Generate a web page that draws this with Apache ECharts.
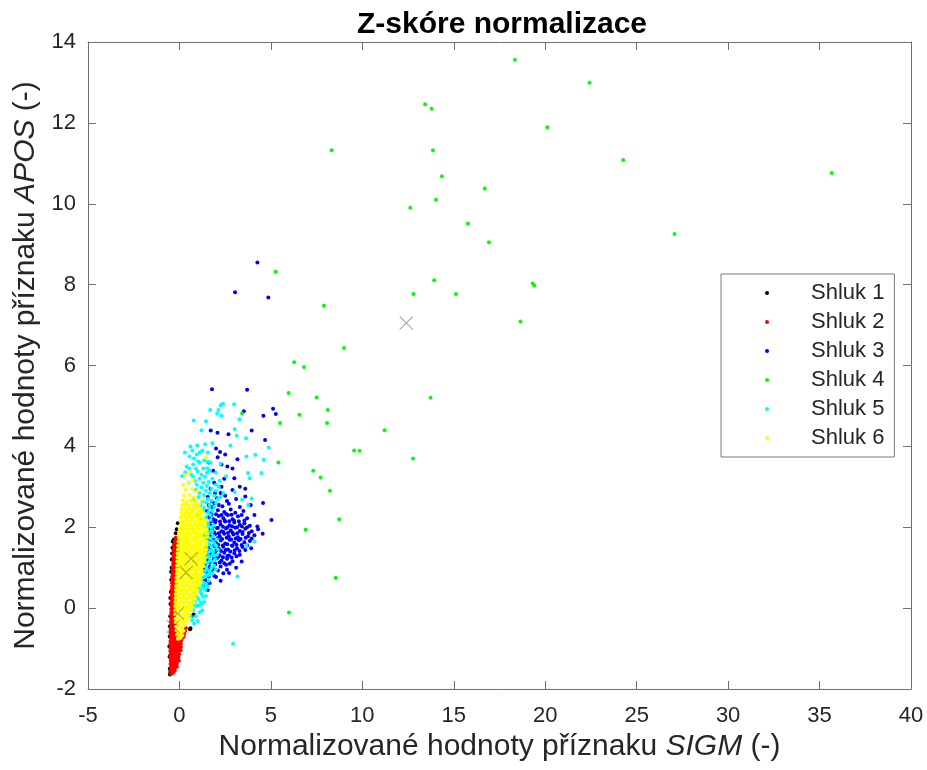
<!DOCTYPE html>
<html><head><meta charset="utf-8">
<script src="https://cdn.jsdelivr.net/npm/echarts/dist/echarts.min.js"></script>
<style>html,body{margin:0;padding:0;background:#fff}#c{width:927px;height:770px}</style>
</head><body><div id="c"></div>
<script>
const titleText = 'Z-skóre normalizace';
const xLabel = 'Normalizované hodnoty příznaku {i|SIGM} (-)';
const yLabel = 'Normalizované hodnoty příznaku {i|APOS} (-)';
const xRange = [-5, 40, 5];
const yRange = [-2, 14, 2];
const seriesNames = ['Shluk 1', 'Shluk 2', 'Shluk 3', 'Shluk 4', 'Shluk 5', 'Shluk 6'];
const seriesColors = ['#000000', '#ff0000', '#0000ff', '#00ff00', '#00ffff', '#ffff00'];

// Shluk 1 (black)
const cluster1 = [[-0.52,-1.64],[-0.5,-1.58],[-0.53,-1.5],[-0.42,-1.56],[-0.24,-1.36],[-0.22,-1.32],[-0.54,-1.2],
[-0.55,-0.95],[-0.45,-0.85],[-0.53,-0.7],[-0.52,-0.45],[-0.5,-0.2],[-0.49,0.1],[-0.47,0.4],[-0.45,0.7],[-0.43,1.0],
[-0.42,1.2],[-0.4,1.35],[-0.38,1.5],[-0.37,1.65],[-0.27,1.59],[-0.32,1.45],[-0.09,2.1],[-0.2,1.85],[-0.15,1.95],
[0.6,-0.5],[0.78,-0.16],[1.46,0.65],[0.69,-0.19],[0.58,-0.52],[-0.3,1.7],[-0.5,0.25],[-0.48,-0.6],[-0.46,0.9]];

// Shluk 2 (red)
const cluster2 = [[-0.46,-1.62],[-0.35,-1.6],[-0.48,-1.54],[-0.37,-1.52],[-0.26,-1.55],[-0.47,-1.46],[-0.36,-1.44],[-0.24,-1.47],[-0.14,-1.45],
[-0.49,-1.38],[-0.38,-1.36],[-0.27,-1.39],[-0.15,-1.37],[-0.48,-1.3],[-0.37,-1.28],[-0.25,-1.31],[-0.13,-1.29],[-0.03,-1.3],
[-0.5,-1.22],[-0.39,-1.2],[-0.28,-1.23],[-0.16,-1.21],[-0.05,-1.22],[-0.49,-1.14],[-0.38,-1.12],[-0.26,-1.15],[-0.14,-1.13],[-0.02,-1.14],
[-0.5,-1.06],[-0.39,-1.04],[-0.27,-1.07],[-0.15,-1.05],[-0.03,-1.06],[0.06,-1.04],[-0.49,-0.98],[-0.38,-0.96],[-0.26,-0.99],[-0.14,-0.97],[-0.02,-0.98],[0.08,-0.96],
[-0.5,-0.9],[-0.39,-0.88],[-0.27,-0.91],[-0.15,-0.89],[-0.03,-0.9],[0.08,-0.88],[-0.49,-0.82],[-0.38,-0.8],[-0.26,-0.83],[-0.14,-0.81],[-0.02,-0.82],[0.1,-0.8],
[-0.48,-0.74],[-0.37,-0.72],[-0.25,-0.75],[-0.13,-0.73],[0.14,-0.74],[0.22,-0.71],[-0.49,-0.66],[-0.38,-0.64],[-0.26,-0.67],[0.25,-0.65],
[-0.47,-0.58],[-0.36,-0.56],[-0.25,-0.59],[0.3,-0.57],[-0.48,-0.5],[-0.37,-0.48],[-0.26,-0.51],[0.35,-0.49],
[-0.46,-0.42],[-0.35,-0.4],[-0.24,-0.43],[-0.47,-0.34],[-0.36,-0.32],[-0.26,-0.35],[-0.45,-0.26],[-0.34,-0.24],[-0.27,-0.27],
[-0.46,-0.18],[-0.35,-0.16],[-0.28,-0.19],[-0.44,-0.1],[-0.34,-0.08],[-0.27,-0.11],[-0.45,-0.02],[-0.35,0.0],[-0.27,-0.03],
[-0.43,0.06],[-0.33,0.08],[-0.26,0.05],[-0.44,0.14],[-0.34,0.16],[-0.25,0.13],[-0.42,0.22],[-0.32,0.24],[-0.24,0.21],
[-0.43,0.3],[-0.33,0.32],[-0.23,0.29],[-0.41,0.38],[-0.31,0.4],[-0.22,0.37],[-0.42,0.46],[-0.32,0.48],[-0.22,0.45],
[-0.4,0.54],[-0.3,0.56],[-0.21,0.53],[-0.41,0.62],[-0.31,0.64],[-0.2,0.61],[-0.39,0.7],[-0.29,0.72],[-0.19,0.69],
[-0.4,0.78],[-0.3,0.8],[-0.18,0.77],[-0.38,0.86],[-0.28,0.88],[-0.17,0.85],[-0.37,0.94],[-0.27,0.96],[-0.16,0.93],
[-0.36,1.02],[-0.26,1.04],[-0.15,1.01],[-0.35,1.1],[-0.25,1.12],[-0.14,1.09],[-0.34,1.18],[-0.24,1.2],[-0.13,1.17],
[-0.33,1.26],[-0.23,1.28],[-0.12,1.25],[-0.32,1.34],[-0.22,1.36],[-0.11,1.33],[-0.31,1.42],[-0.21,1.44],[-0.1,1.41],
[-0.3,1.5],[-0.2,1.52],[-0.09,1.49],[-0.28,1.58],[-0.18,1.6],[-0.08,1.57],[-0.25,1.66],[-0.15,1.68],[-0.2,1.74]];

// Shluk 3 (blue)
const cluster3 = [[4.26,8.55],[3.04,7.81],[4.86,7.68],[1.78,5.41],[3.70,5.40],[3.52,4.87],[5.12,4.93],[5.27,4.80],[4.59,4.76],
[1.71,4.39],[2.08,4.34],[3.95,4.39],[2.68,4.30],[4.68,4.16],[2.22,3.86],[2.09,3.73],[3.17,3.68],[2.62,3.50],[3.00,3.21],
[4.57,2.60],[5.03,2.18],[4.26,2.02],[4.55,1.84],[3.92,1.48],[3.40,1.15],[2.71,0.87],[1.55,0.45],[2.00,0.77],[1.37,0.95],
[1.7,2.95],[2.3,3.0],[2.9,2.92],[1.95,2.85],[1.55,2.75],[2.05,2.72],[2.5,2.78],[3.1,2.7],[3.6,2.76],
[1.6,2.55],[1.9,2.6],[2.35,2.52],[2.7,2.58],[3.3,2.5],[3.9,2.55],[1.5,2.4],[1.75,2.35],[2.1,2.42],[2.45,2.38],[2.8,2.44],[3.05,2.36],[3.5,2.4],
[1.6,2.25],[1.85,2.2],[2.15,2.28],[2.4,2.22],[2.65,2.3],[2.9,2.2],[3.2,2.27],[3.7,2.22],[4.1,2.3],
[1.45,2.1],[1.7,2.05],[1.95,2.12],[2.25,2.07],[2.5,2.14],[2.75,2.05],[3.0,2.12],[3.3,2.06],[3.55,2.1],[3.85,2.04],
[1.55,1.95],[1.8,1.92],[2.05,1.98],[2.3,1.9],[2.55,1.97],[2.8,1.92],[3.05,1.99],[3.3,1.91],[3.6,1.96],[3.95,1.9],[4.3,1.95],
[1.45,1.8],[1.7,1.76],[1.95,1.83],[2.2,1.78],[2.45,1.84],[2.7,1.77],[2.95,1.82],[3.2,1.75],[3.45,1.83],[3.75,1.78],[4.1,1.8],
[1.5,1.64],[1.75,1.68],[2.0,1.61],[2.25,1.67],[2.5,1.6],[2.75,1.69],[3.0,1.62],[3.25,1.68],[3.55,1.63],[3.85,1.66],
[1.4,1.5],[1.65,1.46],[1.9,1.53],[2.15,1.47],[2.4,1.52],[2.65,1.45],[2.9,1.54],[3.15,1.48],[3.45,1.51],
[1.45,1.35],[1.7,1.32],[1.95,1.38],[2.2,1.31],[2.45,1.37],[2.7,1.3],[3.0,1.36],[3.3,1.32],
[1.5,1.2],[1.8,1.17],[2.05,1.24],[2.3,1.18],[2.6,1.22],[2.9,1.16],[1.4,1.05],[1.65,1.02],[1.95,1.08],[2.25,1.03],[2.55,1.07],[3.1,1.0],
[1.45,0.9],[1.75,0.88],[2.1,0.93],[2.4,0.86],[1.4,0.7],[1.65,0.62],[2.25,0.68],[1.3,0.55],
[1.62,1.28],[1.88,1.25],[2.12,1.27],[2.38,1.26],[2.62,1.29],[2.85,1.25],[3.12,1.28],
[1.55,1.42],[1.78,1.4],[2.02,1.43],[2.28,1.41],[2.52,1.44],[2.78,1.4],[3.02,1.43],[3.28,1.41],[3.6,1.44],
[1.62,1.56],[1.87,1.55],[2.12,1.57],[2.37,1.55],[2.62,1.58],[2.87,1.55],[3.12,1.57],[3.4,1.56],[3.7,1.55],
[1.58,1.72],[1.83,1.7],[2.08,1.73],[2.33,1.71],[2.58,1.74],[2.83,1.7],[3.08,1.72],[3.35,1.71],[3.62,1.74],[3.95,1.72],
[1.65,1.86],[1.9,1.87],[2.15,1.85],[2.4,1.88],[2.65,1.86],[2.9,1.87],[3.15,1.85],[3.45,1.88],[3.8,1.86],
[1.6,2.0],[1.85,2.02],[2.1,1.99],[2.38,2.01],[2.62,2.0],[2.88,2.02],[3.15,2.0],[3.42,2.02],[3.7,2.0],
[1.72,2.15],[1.98,2.17],[2.22,2.14],[2.48,2.16],[2.72,2.15],[2.98,2.17],[3.25,2.15],[3.55,2.17],
[1.75,2.3],[2.0,2.32],[2.3,2.3],[2.55,2.33],[2.85,2.31],[3.4,2.3],
[1.65,1.12],[1.95,1.1],[2.2,1.13],[2.45,1.11],[2.75,1.1],[1.55,0.98],[1.85,0.97],[2.6,0.95],[1.6,0.78],[1.9,0.8],[1.5,0.62],
[1.8,2.5],[2.15,2.55],[2.6,2.65],[1.75,2.65],[2.25,2.85],[1.9,3.1],[2.45,3.2],[1.85,3.4],[2.3,3.55],[2.0,3.95],[2.5,3.8],
[1.6,3.6],[2.9,3.45],[3.3,3.0],[3.6,2.95]];

// Shluk 4 (green)
const cluster4 = [[18.34,13.56],[22.42,12.99],[13.43,12.46],[13.79,12.35],[20.11,11.89],[8.32,11.32],[13.86,11.32],[24.26,11.08],
[35.67,10.76],[14.35,10.68],[16.69,10.38],[14.03,10.10],[12.62,9.90],[15.77,9.51],[27.07,9.25],[16.92,9.05],[5.26,8.32],
[13.93,8.11],[19.31,8.03],[19.40,7.98],[12.79,7.77],[15.12,7.77],[7.90,7.48],[18.65,7.09],[9.00,6.43],[6.27,6.08],[6.81,5.96],
[5.97,5.32],[7.50,5.21],[13.73,5.20],[8.11,4.90],[3.43,4.81],[6.56,4.78],[5.50,4.58],[8.07,4.58],[11.22,4.40],[9.55,3.90],
[9.85,3.89],[12.77,3.70],[5.41,3.60],[7.31,3.40],[7.72,3.23],[8.23,2.90],[8.73,2.20],[6.90,1.94],[8.54,0.75],[5.99,-0.11]];

// Shluk 5 (cyan)
const cluster5 = [[0.7,-0.3],[0.9,-0.2],[1.1,-0.1],[0.75,-0.05],[0.95,0.05],[1.2,0.1],[0.85,0.15],[1.05,0.22],[1.3,0.28],[0.9,0.35],[1.15,0.4],[1.4,0.45],[1.0,0.5],
[1.25,0.55],[1.45,0.6],[1.2,0.7],[1.4,0.78],[1.6,0.82],[1.3,0.9],[1.5,0.97],[1.75,1.0],[1.3,1.08],[1.55,1.12],[1.8,1.15],[1.35,1.22],[1.6,1.28],[1.9,1.3],
[1.4,1.38],[1.7,1.42],[1.35,1.52],[1.6,1.58],[1.9,1.6],[1.45,1.68],[1.7,1.72],[1.35,1.8],[1.6,1.85],[1.45,1.95],[1.75,2.0],[2.05,1.7],[2.1,1.45],[1.95,1.2],[2.0,0.95],
[1.3,2.05],[1.55,2.1],[1.2,2.18],[1.45,2.25],[1.7,2.3],[1.0,2.32],[1.3,2.4],[1.6,2.45],[1.9,2.5],[0.9,2.5],[1.15,2.55],[1.45,2.62],[1.75,2.66],[2.1,2.7],
[0.8,2.7],[1.05,2.75],[1.35,2.8],[1.65,2.85],[2.0,2.9],[2.4,2.85],[0.9,2.92],[1.2,2.98],[1.5,3.02],
[0.5,3.1],[0.85,3.15],[1.1,3.2],[1.4,3.25],[1.8,3.2],[2.2,3.15],[0.65,3.3],[1.0,3.38],[1.3,3.45],[1.65,3.4],[2.0,3.35],[0.4,3.5],[0.75,3.55],
[1.1,3.6],[1.55,3.62],[0.55,3.75],[0.95,3.8],[1.25,3.9],[0.3,3.85],[0.6,4.0],[0.97,4.02],[0.78,4.64],[0.15,3.27],[0.31,3.36],[1.55,3.85],[1.53,3.46],[2.24,3.57],[1.02,3.63],
[2.33,5.05],[2.99,5.04],[2.06,4.81],[2.30,4.76],[3.28,4.67],[3.02,4.43],[3.13,4.26],[3.64,4.20],[4.88,3.97],[1.80,4.08],[2.79,4.02],[4.15,3.79],
[3.66,3.75],[4.61,3.67],[4.48,3.34],[3.75,3.34],[3.84,3.21],[2.55,3.26],[3.02,2.87],[3.43,2.68],[3.95,2.71],[3.77,2.55],[4.11,1.64],[3.66,1.54],
[3.17,0.78],[1.17,0.14],[2.93,-0.88],[2.13,4.9],[2.26,5.02],[2.39,5.05],[1.68,4.9],[1.45,4.62],[1.2,4.4],
[0.8,-0.38],[1.0,-0.32],[0.62,-0.2],[1.25,-0.05],[0.8,0.08],[1.05,0.06],[1.35,0.15],[0.95,0.28],[1.2,0.35],[1.45,0.3],[1.1,0.46],[1.3,0.5],[1.55,0.52],
[1.35,0.62],[1.6,0.68],[1.3,0.76],[1.55,0.82],[1.8,0.85],[1.4,0.92],[1.65,0.9],[1.45,1.02],[1.9,1.05],[1.4,1.15],[1.68,1.18],[1.5,1.25],[1.8,1.3],[2.05,1.32],
[1.55,1.38],[1.85,1.4],[1.5,1.46],[1.75,1.52],[2.0,1.55],[1.55,1.62],[1.8,1.65],[1.6,1.74],[1.85,1.78],[1.55,1.88],[1.78,1.9],[1.6,2.02],[1.88,2.05],
[1.45,2.12],[1.7,2.18],[1.55,2.35],[1.8,2.4],[1.35,2.48],[1.65,2.55],[2.0,2.6],[1.25,2.65],[1.55,2.7],[1.9,2.78],[2.25,2.75],[1.1,2.85],[1.45,2.9],[1.75,2.95],[2.15,3.0],
[0.95,3.05],[1.3,3.1],[1.6,3.12],[2.0,3.05],[0.75,3.25],[1.2,3.3],[1.5,3.35],[0.9,3.45],[0.55,3.45],[1.35,3.65],[0.8,3.7],[1.1,3.85],[0.7,3.9],[1.4,4.05],[1.7,3.6]];

// Shluk 6 (yellow)
const cluster6 = [[-0.08,-0.76],[0.06,-0.73],[-0.13,-0.66],[0.02,-0.63],[0.16,-0.67],[-0.16,-0.55],[-0.01,-0.57],[0.13,-0.53],[0.22,-0.56],
[-0.18,-0.46],[-0.03,-0.44],[0.12,-0.47],[0.27,-0.43],[-0.2,-0.35],[-0.05,-0.37],[0.1,-0.33],[0.25,-0.36],[0.4,-0.34],
[-0.22,-0.26],[-0.07,-0.24],[0.08,-0.27],[0.23,-0.23],[0.38,-0.26],[0.47,-0.24],[-0.23,-0.15],[-0.08,-0.17],[0.07,-0.13],[0.22,-0.16],[0.37,-0.14],[0.52,-0.16],
[-0.24,-0.05],[-0.09,-0.03],[0.06,-0.06],[0.21,-0.04],[0.36,-0.07],[0.51,-0.03],[0.64,-0.05],
[-0.23,0.05],[-0.08,0.07],[0.07,0.04],[0.22,0.06],[0.37,0.03],[0.52,0.07],[0.67,0.05],
[-0.22,0.15],[-0.07,0.13],[0.08,0.16],[0.23,0.14],[0.38,0.17],[0.53,0.13],[0.68,0.16],[0.8,0.14],
[-0.21,0.25],[-0.06,0.27],[0.09,0.24],[0.24,0.26],[0.39,0.23],[0.54,0.27],[0.69,0.24],[0.84,0.26],
[-0.2,0.35],[-0.05,0.33],[0.1,0.36],[0.25,0.34],[0.4,0.37],[0.55,0.33],[0.7,0.36],[0.85,0.34],[0.92,0.37],
[-0.19,0.45],[-0.04,0.47],[0.11,0.44],[0.26,0.46],[0.41,0.43],[0.56,0.47],[0.71,0.44],[0.86,0.46],[0.97,0.44],
[-0.18,0.55],[-0.03,0.53],[0.12,0.56],[0.27,0.54],[0.42,0.57],[0.57,0.53],[0.72,0.56],[0.87,0.54],[1.02,0.56],
[-0.17,0.65],[-0.02,0.67],[0.13,0.64],[0.28,0.66],[0.43,0.63],[0.58,0.67],[0.73,0.64],[0.88,0.66],[1.03,0.63],[1.1,0.66],
[-0.16,0.75],[-0.01,0.73],[0.14,0.76],[0.29,0.74],[0.44,0.77],[0.59,0.73],[0.74,0.76],[0.89,0.74],[1.04,0.77],[1.14,0.74],
[-0.15,0.85],[0.0,0.87],[0.15,0.84],[0.3,0.86],[0.45,0.83],[0.6,0.87],[0.75,0.84],[0.9,0.86],[1.05,0.83],[1.18,0.86],
[-0.14,0.95],[0.01,0.93],[0.16,0.96],[0.31,0.94],[0.46,0.97],[0.61,0.93],[0.76,0.96],[0.91,0.94],[1.06,0.97],[1.21,0.94],
[-0.13,1.05],[0.02,1.07],[0.17,1.04],[0.32,1.06],[0.47,1.03],[0.62,1.07],[0.77,1.04],[0.92,1.06],[1.07,1.03],[1.22,1.06],[1.3,1.04],
[-0.12,1.15],[0.03,1.13],[0.18,1.16],[0.33,1.14],[0.48,1.17],[0.63,1.13],[0.78,1.16],[0.93,1.14],[1.08,1.17],[1.23,1.14],[1.34,1.16],
[-0.11,1.25],[0.04,1.27],[0.19,1.24],[0.34,1.26],[0.49,1.23],[0.64,1.27],[0.79,1.24],[0.94,1.26],[1.09,1.23],[1.24,1.27],[1.38,1.24],
[-0.1,1.35],[0.05,1.33],[0.2,1.36],[0.35,1.34],[0.5,1.37],[0.65,1.33],[0.8,1.36],[0.95,1.34],[1.1,1.37],[1.25,1.33],[1.41,1.36],
[-0.08,1.45],[0.07,1.47],[0.22,1.44],[0.37,1.46],[0.52,1.43],[0.67,1.47],[0.82,1.44],[0.97,1.46],[1.12,1.43],[1.27,1.47],[1.44,1.45],
[-0.07,1.55],[0.08,1.53],[0.23,1.56],[0.38,1.54],[0.53,1.57],[0.68,1.53],[0.83,1.56],[0.98,1.54],[1.13,1.57],[1.28,1.53],[1.46,1.56],
[-0.05,1.65],[0.1,1.67],[0.25,1.64],[0.4,1.66],[0.55,1.63],[0.7,1.67],[0.85,1.64],[1.0,1.66],[1.15,1.63],[1.3,1.67],[1.48,1.64],
[-0.03,1.75],[0.12,1.73],[0.27,1.76],[0.42,1.74],[0.57,1.77],[0.72,1.73],[0.87,1.76],[1.02,1.74],[1.17,1.77],[1.32,1.73],[1.5,1.76],
[-0.01,1.85],[0.14,1.87],[0.29,1.84],[0.44,1.86],[0.59,1.83],[0.74,1.87],[0.89,1.84],[1.04,1.86],[1.19,1.83],[1.34,1.87],[1.5,1.85],
[0.02,1.95],[0.17,1.93],[0.32,1.96],[0.47,1.94],[0.62,1.97],[0.77,1.93],[0.92,1.96],[1.07,1.94],[1.22,1.97],[1.37,1.93],[1.5,1.95],
[0.05,2.05],[0.2,2.07],[0.35,2.04],[0.5,2.06],[0.65,2.03],[0.8,2.07],[0.95,2.04],[1.1,2.06],[1.25,2.03],[1.4,2.07],
[0.07,2.15],[0.22,2.13],[0.37,2.16],[0.52,2.14],[0.67,2.17],[0.82,2.13],[0.97,2.16],[1.12,2.14],[1.27,2.17],[1.42,2.14],
[0.08,2.25],[0.23,2.27],[0.38,2.24],[0.53,2.26],[0.68,2.23],[0.83,2.27],[0.98,2.24],[1.13,2.26],[1.3,2.23],
[0.1,2.35],[0.25,2.33],[0.4,2.36],[0.55,2.34],[0.7,2.37],[0.85,2.33],[1.0,2.36],[1.15,2.34],[1.28,2.37],
[0.12,2.45],[0.27,2.47],[0.42,2.44],[0.57,2.46],[0.72,2.43],[0.87,2.47],[1.02,2.44],[1.17,2.46],
[0.15,2.55],[0.32,2.57],[0.5,2.54],[0.68,2.56],[0.85,2.53],[1.05,2.57],[0.18,2.66],[0.4,2.63],[0.62,2.67],[0.9,2.64],
[0.25,2.78],[0.55,2.8],[0.8,2.74],[0.35,2.92],[0.7,2.95],[0.2,3.05],[0.5,3.1],[0.73,3.17],[0.3,3.3],[0.6,3.38],[1.46,3.74],[0.95,2.88],[1.25,2.7]];

// cluster centres
const centroids = [[12.4,7.05],[0.64,1.22],[0.37,0.88],[-0.1,-0.13],[-0.35,-0.45]];

const FONT = "'Liberation Sans', Arial, Helvetica, sans-serif";
const AX = '#6f6f6f';
const TXT = '#262626';
const clusters = [cluster1, cluster2, cluster3, cluster4, cluster5, cluster6];

const chart = echarts.init(document.getElementById('c'), null, {renderer: 'canvas'});
const baseAxis = (pos, r, extra) => Object.assign({
  type: 'value', position: pos, min: r[0], max: r[1], interval: r[2],
  splitLine: {show: false},
  axisLine: {show: true, onZero: false, lineStyle: {color: AX, width: 1}},
  axisTick: {show: true, inside: true, length: 8, lineStyle: {color: AX, width: 1}},
  axisLabel: {show: false}
}, extra);

const series = clusters.map((d, i) => ({
  name: seriesNames[i], type: 'scatter', data: d, symbol: 'circle', symbolSize: 4,
  itemStyle: {color: seriesColors[i], opacity: 1}, silent: true, animation: false,
  xAxisIndex: 0, yAxisIndex: 0
}));
series.push({
  name: 'centroids', type: 'scatter', data: centroids,
  symbol: 'path://M0,0L10,10M10,0L0,10', symbolSize: 13,
  itemStyle: {color: 'none', borderColor: 'rgba(60,60,60,0.5)', borderWidth: 1.2},
  silent: true, animation: false, xAxisIndex: 0, yAxisIndex: 0
});

chart.setOption({
  backgroundColor: '#ffffff',
  animation: false,
  title: {
    text: titleText, left: 497, top: 5, textAlign: 'center',
    textStyle: {fontFamily: FONT, fontWeight: 'bold', fontSize: 30, color: '#000'}
  },
  grid: {left: 88, right: 16, top: 42, bottom: 81, containLabel: false, outerBoundsMode: 'none'},
  legend: {
    data: seriesNames, orient: 'vertical', left: 721, top: 274,
    icon: 'circle', itemWidth: 4, itemHeight: 4, itemGap: 7,
    padding: [8, 10, 8, 44],
    borderColor: '#7a7a7a', borderWidth: 1, backgroundColor: '#fff',
    textStyle: {fontFamily: FONT, fontSize: 22, color: TXT, padding: [0, 0, 0, 37], lineHeight: 22},
    selectedMode: false
  },
  xAxis: [
    baseAxis('bottom', xRange, {
      name: xLabel, nameLocation: 'middle', nameGap: 43,
      nameTextStyle: {fontFamily: FONT, fontSize: 30, color: TXT, rich: {i: {fontFamily: FONT, fontSize: 30, fontStyle: 'italic', color: TXT}}},
      axisLabel: {show: true, fontFamily: FONT, fontSize: 22, color: TXT, margin: 16}
    }),
    baseAxis('top', xRange, {})
  ],
  yAxis: [
    baseAxis('left', yRange, {
      name: yLabel, nameLocation: 'middle', nameGap: 44,
      nameTextStyle: {fontFamily: FONT, fontSize: 30, color: TXT, rich: {i: {fontFamily: FONT, fontSize: 30, fontStyle: 'italic', color: TXT}}},
      axisLabel: {show: true, fontFamily: FONT, fontSize: 22, color: TXT, margin: 12}
    }),
    baseAxis('right', yRange, {})
  ],
  series: series
});
</script>
</body></html>
